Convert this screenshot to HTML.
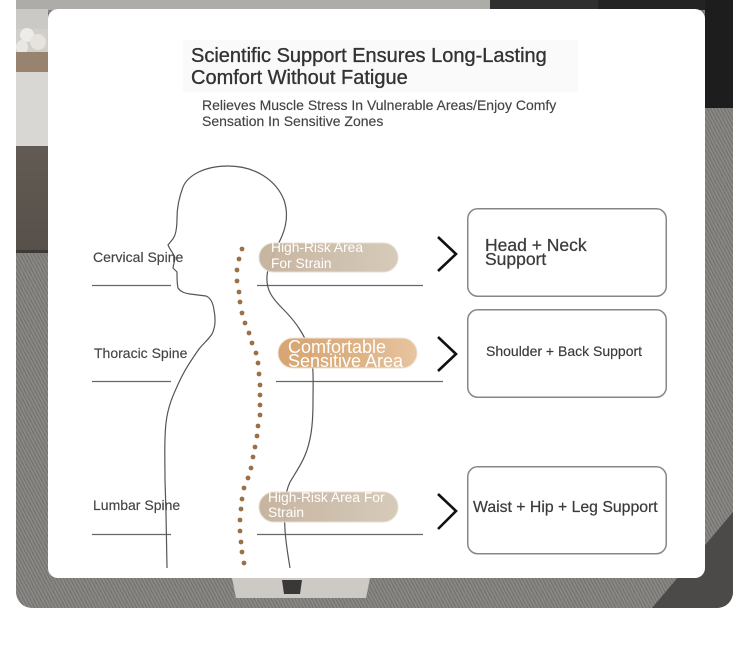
<!DOCTYPE html>
<html>
<head>
<meta charset="utf-8">
<style>
  html,body{margin:0;padding:0;}
  body{width:750px;height:648px;position:relative;overflow:hidden;background:#fff;font-family:"Liberation Sans",Arial,sans-serif;}
  .abs{position:absolute;}
  .carpet{background-color:#807e7b;background-image:repeating-linear-gradient(62deg,rgba(255,255,255,0.10) 0 1px,rgba(0,0,0,0.10) 1px 2px,rgba(255,255,255,0.04) 2px 3px);}
  .t{position:absolute;white-space:nowrap;}
</style>
</head>
<body>

<!-- background photo -->
<div class="abs carpet" style="left:16px;top:0;width:717px;height:608px;border-radius:0 0 16px 16px;overflow:hidden;">
  <!-- top strip -->
  <div class="abs" style="left:0;top:0;width:474px;height:10px;background:#aeaca8;"></div>
  <div class="abs" style="left:474px;top:0;width:108px;height:10px;background:#2f2f2f;"></div>
  <div class="abs" style="left:582px;top:0;width:135px;height:10px;background:#232323;"></div>
  <!-- right strip dark top -->
  <div class="abs" style="left:689px;top:0;width:28px;height:108px;background:#1d1d1d;"></div>
  <!-- left strip -->
  <div class="abs" style="left:0;top:9px;width:32px;height:20px;background:#cbc9c5;"></div>
  <div class="abs" style="left:0;top:29px;width:32px;height:46px;background:#d2cfca;"></div>
  <div class="abs" style="left:4px;top:28px;width:14px;height:14px;border-radius:50%;background:#eeece8;"></div>
  <div class="abs" style="left:14px;top:34px;width:16px;height:16px;border-radius:50%;background:#e6e3de;"></div>
  <div class="abs" style="left:0;top:40px;width:12px;height:14px;border-radius:50%;background:#e9e7e3;"></div>
  <div class="abs" style="left:0;top:52px;width:32px;height:20px;background:#978370;"></div>
  <div class="abs" style="left:0;top:72px;width:32px;height:74px;background:#d9d7d3;"></div>
  <div class="abs" style="left:0;top:146px;width:32px;height:106px;background:linear-gradient(#625b54,#57504a);"></div>
  <div class="abs" style="left:0;top:250px;width:32px;height:3px;background:#3e3a36;"></div>
  <!-- bottom right leather -->
  <svg class="abs" style="left:0;top:0" width="717" height="608">
    <polygon points="717,512 717,608 636,608" fill="#4b4a48"/>
    <polygon points="216,578 354,578 350,598 220,598" fill="#cdc9c4"/>
    <polygon points="266,580 286,580 284,594 268,594" fill="#3a3836"/>
  </svg>
</div>

<!-- card -->
<div class="abs" style="left:48px;top:9px;width:657px;height:569px;background:#fff;border-radius:10px;"></div>
<div class="abs" style="left:183px;top:40px;width:395px;height:52px;background:#fafafa;"></div>

<svg class="abs" style="left:0;top:0" width="750" height="648">
  <!-- horizontal lines -->
  <g stroke="#666" stroke-width="1.3" fill="none">
    <line x1="92" y1="285.5" x2="171" y2="285.5"/>
    <line x1="257" y1="285.5" x2="423" y2="285.5"/>
    <line x1="92" y1="381.5" x2="171" y2="381.5"/>
    <line x1="276" y1="381.5" x2="443" y2="381.5"/>
    <line x1="92" y1="534.5" x2="171" y2="534.5"/>
    <line x1="257" y1="534.5" x2="423" y2="534.5"/>
  </g>
  <!-- figure -->
  <g stroke="#555" stroke-width="1.2" fill="none" stroke-linejoin="round">
    <path d="M183,187 C180,195 177,207 177,218 C177,228 176,236 172,240 L168,245 C170,250 174,254 175,258 L174,263 L173,268 L177,272 C177,278 177,284 178,288 C181,292 184,293 190,294 L206,296 C211,298 213,303 214,310 C216,320 215,328 212,334 C208,340 203,344 199,349 C194,356 187,366 181,378 C174,393 168,405 166,423 C164,440 165,460 165,480 L166,513 L167,568"/>
    <path d="M183,187 C188,175 205,166 228,166 C255,166 276,180 284,200 C288,212 287,224 282,236 C276,250 268,262 267,276 C266,290 272,298 283,309 C296,322 306,336 311,355 C314,370 313,385 313,400 C313,420 312,435 307,450 C303,462 296,472 290,482 C284,495 284,510 285,530 C286,545 288,555 290,568"/>
  </g>
  <!-- spine dots -->
  <g fill="#9b7049">
    <circle cx="242" cy="249" r="2.4"/><circle cx="239" cy="259" r="2.4"/><circle cx="237" cy="270" r="2.4"/>
    <circle cx="237" cy="281" r="2.4"/><circle cx="239" cy="292" r="2.4"/><circle cx="240" cy="302" r="2.4"/>
    <circle cx="242" cy="313" r="2.4"/><circle cx="245" cy="323" r="2.4"/><circle cx="249" cy="333" r="2.4"/>
    <circle cx="252" cy="343" r="2.4"/><circle cx="256" cy="353" r="2.4"/><circle cx="258" cy="363" r="2.4"/>
    <circle cx="259" cy="374" r="2.4"/><circle cx="260" cy="385" r="2.4"/><circle cx="260" cy="395" r="2.4"/>
    <circle cx="260" cy="405" r="2.4"/><circle cx="260" cy="415" r="2.4"/><circle cx="258" cy="426" r="2.4"/>
    <circle cx="257" cy="436" r="2.4"/><circle cx="255" cy="447" r="2.4"/><circle cx="253" cy="457" r="2.4"/>
    <circle cx="251" cy="468" r="2.4"/><circle cx="248" cy="478" r="2.4"/><circle cx="244" cy="488" r="2.4"/>
    <circle cx="242" cy="499" r="2.4"/><circle cx="241" cy="509" r="2.4"/><circle cx="240" cy="520" r="2.4"/>
    <circle cx="240" cy="531" r="2.4"/><circle cx="241" cy="542" r="2.4"/><circle cx="242" cy="552" r="2.4"/>
    <circle cx="244" cy="563" r="2.4"/>
  </g>
  <defs>
    <linearGradient id="g1" x1="0" x2="1" y1="0" y2="0">
      <stop offset="0" stop-color="#c4b29c"/><stop offset="1" stop-color="#d5c8b7"/>
    </linearGradient>
    <linearGradient id="g2" x1="0" x2="1" y1="0" y2="0">
      <stop offset="0" stop-color="#d6a26d"/><stop offset="0.6" stop-color="#ddb081"/><stop offset="1" stop-color="#e6c39d"/>
    </linearGradient>
  </defs>
  <!-- pills -->
  <rect x="259" y="243" width="139" height="29" rx="14.5" fill="url(#g1)" stroke="#e6ded3" stroke-width="1" opacity="0.96"/>
  <rect x="278" y="338" width="139" height="30" rx="15" fill="url(#g2)" stroke="#efe2d2" stroke-width="1" opacity="0.96"/>
  <rect x="259" y="492" width="139" height="30" rx="15" fill="url(#g1)" stroke="#e6ded3" stroke-width="1" opacity="0.96"/>
  <!-- chevrons -->
  <g stroke="#111" stroke-width="2.6" fill="none" stroke-linejoin="miter">
    <polyline points="438,237 456,254 438,271"/>
    <polyline points="438,337 456,354 438,371"/>
    <polyline points="438,494 456,511 438,529"/>
  </g>
  <!-- boxes -->
  <g stroke="#878787" stroke-width="1.5" fill="#fff">
    <rect x="467.75" y="208.75" width="198.5" height="87.5" rx="10"/>
    <rect x="467.75" y="309.75" width="198.5" height="87.5" rx="10"/>
    <rect x="467.75" y="466.75" width="198.5" height="87" rx="10"/>
  </g>
</svg>

<!-- title -->
<div class="t" style="left:191px;top:45px;font-size:20px;line-height:22px;color:#333;-webkit-text-stroke:0.35px #333;">Scientific Support Ensures Long-Lasting<br>Comfort Without Fatigue</div>
<div class="t" style="left:202px;top:97px;font-size:14px;line-height:16px;color:#444;-webkit-text-stroke:0.15px #444;">Relieves Muscle Stress In Vulnerable Areas/Enjoy Comfy<br>Sensation In Sensitive Zones</div>

<!-- left labels -->
<div class="t" style="left:93px;top:249px;font-size:14px;line-height:16px;color:#444;-webkit-text-stroke:0.15px #444;">Cervical Spine</div>
<div class="t" style="left:94px;top:345px;font-size:14px;line-height:16px;color:#444;-webkit-text-stroke:0.15px #444;">Thoracic Spine</div>
<div class="t" style="left:93px;top:497px;font-size:14px;line-height:16px;color:#444;-webkit-text-stroke:0.15px #444;">Lumbar Spine</div>

<!-- pill texts -->
<div class="t" style="left:271px;top:240px;font-size:13.8px;line-height:16px;color:#fff;">High-Risk Area<br>For Strain</div>
<div class="t" style="left:288px;top:340px;font-size:18px;line-height:14px;color:#fff;">Comfortable<br>Sensitive Area</div>
<div class="t" style="left:268px;top:489.5px;font-size:13.8px;line-height:15px;color:#fff;">High-Risk Area For<br>Strain</div>

<!-- box texts -->
<div class="t" style="left:485px;top:237.5px;font-size:17.5px;line-height:14.5px;color:#3a3a3a;-webkit-text-stroke:0.25px #3a3a3a;">Head + Neck<br>Support</div>
<div class="t" style="left:486px;top:343px;font-size:14px;line-height:16px;color:#3a3a3a;-webkit-text-stroke:0.15px #3a3a3a;">Shoulder + Back Support</div>
<div class="t" style="left:473px;top:498.5px;font-size:15.8px;line-height:18px;color:#3a3a3a;-webkit-text-stroke:0.2px #3a3a3a;">Waist + Hip + Leg Support</div>

</body>
</html>
